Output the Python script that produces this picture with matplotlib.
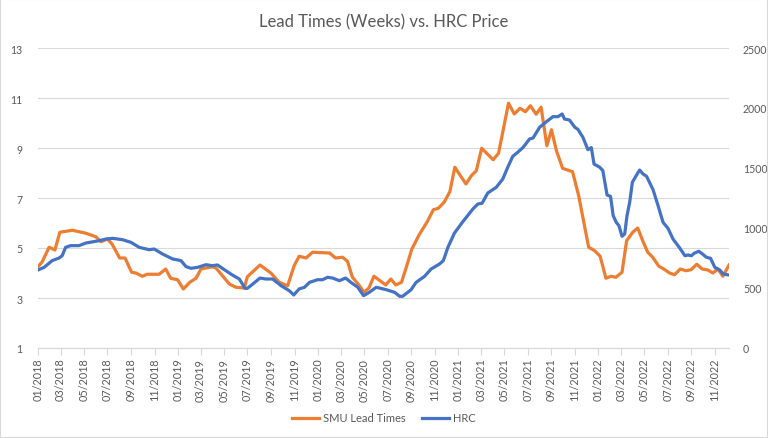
import matplotlib
matplotlib.use('Agg')
import matplotlib.pyplot as plt
import matplotlib.dates as mdates
from matplotlib.patches import Rectangle
import pandas as pd

# SMU lead times (weeks), left axis
lead_dates = ['2018-01-01', '2018-01-12', '2018-01-30', '2018-02-14', '2018-02-27', '2018-04-01',
              '2018-05-06', '2018-06-01', '2018-06-14', '2018-07-01', '2018-07-13', '2018-08-02',
              '2018-08-16', '2018-09-02', '2018-09-13', '2018-09-30', '2018-10-13', '2018-11-13',
              '2018-11-30', '2018-12-13', '2018-12-31', '2019-01-15', '2019-02-01', '2019-02-17',
              '2019-03-02', '2019-04-01', '2019-04-10', '2019-04-27', '2019-05-15', '2019-06-01',
              '2019-06-23', '2019-07-01', '2019-08-03', '2019-09-01', '2019-09-22', '2019-10-14',
              '2019-10-31', '2019-11-13', '2019-12-01', '2019-12-18', '2020-01-31', '2020-02-16',
              '2020-03-05', '2020-03-18', '2020-03-31', '2020-04-17', '2020-04-30', '2020-05-13',
              '2020-05-26', '2020-06-26', '2020-07-09', '2020-07-22', '2020-08-06', '2020-08-17',
              '2020-09-02', '2020-09-21', '2020-10-12', '2020-10-28', '2020-11-10', '2020-11-25',
              '2020-12-10', '2020-12-23', '2021-01-21', '2021-02-04', '2021-02-17', '2021-03-03',
              '2021-04-02', '2021-04-16', '2021-05-12', '2021-05-27', '2021-06-11', '2021-06-25',
              '2021-07-08', '2021-07-23', '2021-08-05', '2021-08-20', '2021-09-01', '2021-09-14',
              '2021-09-30', '2021-10-26', '2021-11-11', '2021-12-07', '2021-12-22', '2022-01-06',
              '2022-01-21', '2022-02-03', '2022-02-16', '2022-03-04', '2022-03-16', '2022-04-01',
              '2022-04-14', '2022-04-27', '2022-05-10', '2022-05-23', '2022-06-08', '2022-06-22',
              '2022-07-06', '2022-07-19', '2022-08-03', '2022-08-18', '2022-08-31', '2022-09-15',
              '2022-09-29', '2022-10-14', '2022-10-27', '2022-11-09', '2022-11-22', '2022-12-08']
lead_weeks = [4.25, 4.45, 5.03, 4.92, 5.63, 5.71,
              5.59, 5.45, 5.25, 5.36, 5.16, 4.60,
              4.60, 4.03, 4.00, 3.87, 3.95, 3.95,
              4.16, 3.79, 3.73, 3.36, 3.63, 3.79,
              4.16, 4.25, 4.20, 3.89, 3.56, 3.43,
              3.40, 3.85, 4.32, 3.99, 3.63, 3.49,
              4.29, 4.67, 4.60, 4.83, 4.80, 4.60,
              4.63, 4.47, 3.83, 3.52, 3.23, 3.40,
              3.87, 3.52, 3.76, 3.52, 3.63, 4.16,
              4.96, 5.53, 6.05, 6.53, 6.59, 6.83,
              7.25, 8.23, 7.56, 7.89, 8.09, 8.99,
              8.53, 8.79, 10.79, 10.36, 10.59, 10.45,
              10.69, 10.35, 10.63, 9.09, 9.73, 8.89,
              8.19, 8.05, 7.09, 5.03, 4.90, 4.67,
              3.79, 3.87, 3.83, 4.03, 5.29, 5.63,
              5.80, 5.29, 4.83, 4.63, 4.27, 4.15,
              4.00, 3.93, 4.16, 4.09, 4.13, 4.35,
              4.16, 4.12, 4.00, 4.16, 3.87, 4.32]

# HRC price, right axis
hrc_dates = ['2018-01-01', '2018-01-17', '2018-02-07', '2018-02-25', '2018-03-05', '2018-03-14',
             '2018-03-27', '2018-04-18', '2018-05-06', '2018-06-09', '2018-06-27', '2018-07-14',
             '2018-08-09', '2018-08-31', '2018-09-22', '2018-10-18', '2018-10-31', '2018-11-22',
             '2018-12-18', '2019-01-09', '2019-01-22', '2019-02-04', '2019-02-21', '2019-03-15',
             '2019-04-01', '2019-04-14', '2019-05-06', '2019-05-23', '2019-06-10', '2019-06-25',
             '2019-07-01', '2019-07-15', '2019-08-03', '2019-08-18', '2019-09-05', '2019-09-27',
             '2019-10-18', '2019-10-30', '2019-11-13', '2019-11-27', '2019-12-10', '2019-12-31',
             '2020-01-13', '2020-01-26', '2020-02-08', '2020-02-26', '2020-03-13', '2020-03-27',
             '2020-04-14', '2020-04-29', '2020-05-14', '2020-06-01', '2020-06-27', '2020-07-19',
             '2020-08-01', '2020-08-09', '2020-08-31', '2020-09-13', '2020-10-05', '2020-10-22',
             '2020-11-13', '2020-11-23', '2020-12-05', '2020-12-22', '2021-01-13', '2021-02-08',
             '2021-02-21', '2021-03-04', '2021-03-19', '2021-04-10', '2021-04-27', '2021-05-10',
             '2021-05-23', '2021-06-05', '2021-06-19', '2021-07-06', '2021-07-15', '2021-08-01',
             '2021-08-19', '2021-09-05', '2021-09-18', '2021-09-29', '2021-10-05', '2021-10-18',
             '2021-11-01', '2021-11-09', '2021-11-22', '2021-12-05', '2021-12-14', '2021-12-21',
             '2022-01-05', '2022-01-13', '2022-01-24', '2022-02-02', '2022-02-09', '2022-02-17',
             '2022-02-24', '2022-03-04', '2022-03-11', '2022-03-17', '2022-03-24', '2022-03-31',
             '2022-04-11', '2022-04-19', '2022-04-28', '2022-05-07', '2022-05-24', '2022-06-06',
             '2022-06-19', '2022-07-02', '2022-07-15', '2022-08-02', '2022-08-15', '2022-08-23',
             '2022-09-01', '2022-09-08', '2022-09-20', '2022-09-30', '2022-10-10', '2022-10-21',
             '2022-11-01', '2022-11-14', '2022-11-23', '2022-12-08']
hrc_price = [650, 672, 728, 750, 769, 839,
             853, 853, 875, 894, 908, 914,
             903, 881, 839, 819, 825, 783,
             742, 728, 678, 664, 672, 694,
             686, 692, 644, 608, 575, 497,
             497, 533, 583, 575, 575, 519,
             478, 442, 492, 506, 547, 569,
             569, 589, 583, 561, 583, 547,
             506, 436, 464, 506, 486, 464,
             431, 431, 486, 547, 597, 658,
             700, 728, 839, 958, 1053, 1158,
             1200, 1206, 1292, 1339, 1408, 1506,
             1597, 1631, 1672, 1742, 1750, 1839,
             1886, 1928, 1928, 1950, 1908, 1900,
             1839, 1822, 1756, 1653, 1670, 1533,
             1506, 1478, 1275, 1264, 1103, 1047,
             1019, 931, 950, 1103, 1214, 1381,
             1442, 1483, 1450, 1431, 1319, 1186,
             1047, 997, 908, 831, 769, 775,
             769, 789, 806, 783, 756, 747,
             672, 650, 617, 608]

title = 'Lead Times (Weeks) vs. HRC Price'
lead_label = 'SMU Lead Times'
hrc_label = 'HRC'

plt.rcParams['font.family'] = ['Lato', 'DejaVu Sans']
text_grey = '#595959'
orange = '#ED7D31'
blue = '#4472C4'

lead_x = pd.to_datetime(lead_dates)
hrc_x = pd.to_datetime(hrc_dates)

fig = plt.figure(figsize=(7.68, 4.39), dpi=100)
ax = fig.add_axes([38 / 768, 1 - 349 / 439, (729 - 38) / 768, 300 / 439])
ax2 = ax.twinx()

l1, = ax.plot(lead_x, lead_weeks, color=orange, lw=2.3, solid_joinstyle='round', label=lead_label)
l2, = ax2.plot(hrc_x, hrc_price, color=blue, lw=2.3, solid_joinstyle='round', label=hrc_label)

ax.set_ylim(1, 13)
ax.set_yticks(range(1, 14, 2))
ax2.set_ylim(0, 2500)
ax2.set_yticks(range(0, 2501, 500))
ax.set_xlim(lead_x[0], lead_x[-1])

ax.grid(axis='y', color='#d9d9d9', lw=0.8)
ax.set_axisbelow(True)

ax.xaxis.set_major_locator(mdates.MonthLocator(bymonth=[1, 3, 5, 7, 9, 11]))
ax.xaxis.set_major_formatter(mdates.DateFormatter('%m/%Y'))
for lab in ax.get_xticklabels():
    lab.set_rotation(90)

for a in (ax, ax2):
    for s in ('top', 'left', 'right'):
        a.spines[s].set_visible(False)
    a.spines['bottom'].set_color('#d9d9d9')
ax.tick_params(axis='x', colors='#d9d9d9', labelcolor=text_grey, labelsize=7.8, length=5, pad=2)
ax.tick_params(axis='y', length=0, labelcolor=text_grey, labelsize=7.6, pad=11)
ax2.tick_params(axis='y', length=0, labelcolor=text_grey, labelsize=7.6, pad=10)

fig.text(0.5, 1 - 22 / 439, title, ha='center', va='center', fontsize=12,
         color=text_grey)

fig.legend(handles=[l1, l2], loc='center', bbox_to_anchor=(384 / 768, 1 - 419 / 439),
           ncol=2, frameon=False, fontsize=8, handlelength=2.4, handletextpad=0.4,
           columnspacing=1.5, labelcolor=text_grey)

fig.patches.append(Rectangle((0, 0), 1, 1, transform=fig.transFigure, fill=False,
                             edgecolor='#d9d9d9', lw=1.5))

fig.savefig('out.png', dpi=100)
